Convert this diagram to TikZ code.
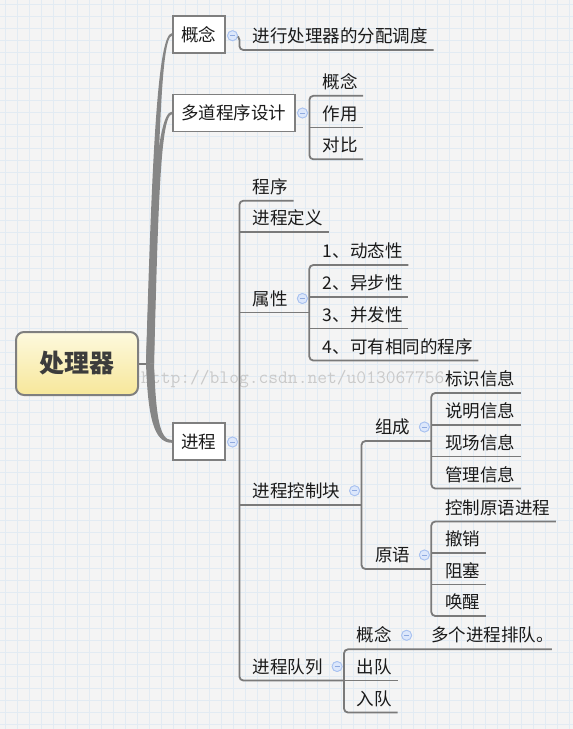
\documentclass[tikz,border=0pt]{standalone}
\usepackage{fontspec}
\setmainfont{Noto Sans CJK SC}
\usetikzlibrary{calc}
\definecolor{bgc}{HTML}{F4F4F4}
\definecolor{gridc}{HTML}{E2EBF3}
\definecolor{linec}{HTML}{7A7A7A}
\definecolor{curvec}{HTML}{868686}
\definecolor{boxc}{HTML}{7F7F7F}
\definecolor{txtc}{HTML}{1A1A1A}
\definecolor{rootc}{HTML}{3C3C3C}
\definecolor{rtop}{HTML}{FDF9DE}
\definecolor{rbot}{HTML}{F7E79A}
\definecolor{circf}{HTML}{DCE7FB}
\definecolor{circd}{HTML}{A9C2F0}
\definecolor{minc}{HTML}{8FAAE0}
\definecolor{wmc}{HTML}{CACACA}
\begin{document}
\begin{tikzpicture}[x=1pt,y=-1pt,
  conn/.style={draw=linec,line width=1.8pt,rounded corners=4pt},
  leaf/.style={inner sep=0pt,anchor=base west,text=txtc,font=\fontsize{17.5}{20}\selectfont},
  topic/.style={draw=boxc,line width=1.5pt,fill=white,inner xsep=8.5pt,inner ysep=0pt,minimum height=37pt,anchor=west,text=txtc,font=\fontsize{17.5}{20}\selectfont},
  fold/.style={circle,inner sep=0pt,minimum size=10pt,fill=circf,draw=circd,line width=0.8pt,
    path picture={\draw[draw=minc,line width=1pt] ([xshift=2.5pt]path picture bounding box.west) -- ([xshift=-2.5pt]path picture bounding box.east);}},
]
\useasboundingbox (0,0) rectangle (573,729);
% background grid
\fill[bgc] (0,0) rectangle (573,729);
\foreach \x in {5,17,...,569} \draw[gridc,line width=0.7pt] (\x,0) -- (\x,729);
\foreach \y in {4,16,...,724} \draw[gridc,line width=0.7pt] (0,\y) -- (573,\y);
% watermark
\node[anchor=base west,inner sep=0pt,text=wmc,font=\ttfamily\fontsize{19}{20}\selectfont] (wm) at (141,383) {http://blog.csdn.net/u013067756};

% root
\node[draw=boxc,line width=2pt,rounded corners=8pt,top color=rtop,bottom color=rbot,
  minimum width=122pt,minimum height=63pt,inner sep=0pt,
  font=\bfseries\fontsize{25}{28}\selectfont,text=rootc] (root) at (77,363.5) {处理器};
\coordinate (rj) at ($(root.east)+(11,0)$);

% main topics
\node[topic] (b1) at (172,34.5) {概念};
\node[topic] (b2) at (172,113) {多道程序设计};
\node[topic] (b3) at (172,441.5) {进程};

% tapered trunk curves
\draw[linec,line width=2pt] (root.east) -- (rj);
\fill[curvec] ($(rj)+(-4,0)$) .. controls (152,150) and (158,33) .. ($(b1.west)+(0,-1.3)$)
  -- ($(b1.west)+(0,1.3)$) .. controls (161,36) and (158,150) .. ($(rj)+(4,0)$) -- cycle;
\fill[curvec] ($(rj)+(-4,0)$) .. controls (151,220) and (156,111.5) .. ($(b2.west)+(0,-1.3)$)
  -- ($(b2.west)+(0,1.3)$) .. controls (160,114.5) and (158,220) .. ($(rj)+(4,0)$) -- cycle;
\fill[curvec] ($(rj)+(-4,0)$) .. controls (148,415) and (153,443) .. ($(b3.west)+(0,1.3)$)
  -- ($(b3.west)+(0,-1.3)$) .. controls (159,440) and (156,415) .. ($(rj)+(4,0)$) -- cycle;

% ---- branch 1: 概念
\node[fold] (k1) at ($(b1.east)+(7,1.2)$) {};
\node[leaf] (t1) at (252.7,42.5) {进行处理器的分配调度};
\coordinate (t1u) at ($(t1.base east)+(5.5,7.5)$);
\draw[conn] (k1.east) -- ++(1.5,0) |- (t1u);

% ---- branch 2: 多道程序设计
\node[fold] (k2) at ($(b2.east)+(7,0)$) {};
\coordinate (v2) at ($(k2.east)+(1.5,0)$);
\node[leaf] (m1) at (322.3,88.3) {概念};
\node[leaf] (m2) at (322.3,120) {作用};
\node[leaf] (m3) at (322.3,151.8) {对比};
\foreach \n in {m1,m2,m3} \coordinate (\n u) at ($(\n.base east)+(5.5,7.5)$);
\draw[conn] (m1u) -- (m1u -| v2) -- (m3u -| v2) -- (m3u);
\draw[conn] (m2u -| v2) -- (m2u);

% ---- branch 3: 进程
\node[fold] (k3) at ($(b3.east)+(7,0.5)$) {};
\coordinate (v3) at ($(k3.east)+(1.5,0)$);
\node[leaf] (p1) at (252.7,193.2) {程序};
\node[leaf] (p2) at (252.7,224.8) {进程定义};
\node[leaf] (p3) at (252.7,305) {属性};
\node[leaf] (p4) at (252.7,497.2) {进程控制块};
\node[leaf] (p5) at (252.7,673) {进程队列};
\foreach \n in {p1,p2} \coordinate (\n u) at ($(\n.base east)+(5.5,7.5)$);
\foreach \n in {p3,p4,p5} \coordinate (\n y) at ($(\n.base west)+(0,7.5)$);

% 属性
\node[fold] (k33) at ($(p3.base east)+(14.3,-6.5)$) {};
\coordinate (v33) at ($(k33.east)+(1.5,0)$);
\coordinate (p3u) at (p3y -| v33);
\node[leaf] (a1) at (322.7,257.5) {1、动态性};
\node[leaf] (a2) at (322.7,289.5) {2、异步性};
\node[leaf] (a3) at (322.7,321) {3、并发性};
\node[leaf] (a4) at (322.7,353) {4、可有相同的程序};
\foreach \n in {a1,a2,a3,a4} \coordinate (\n u) at ($(\n.base east)+(5.5,7.5)$);
\draw[conn] (a1u) -- (a1u -| v33) -- (a4u -| v33) -- (a4u);
\draw[conn] (a2u -| v33) -- (a2u);
\draw[conn] (a3u -| v33) -- (a3u);

% 进程控制块
\node[fold] (k34) at ($(p4.base east)+(14,-6.5)$) {};
\coordinate (v34) at ($(k34.east)+(1.5,0)$);
\coordinate (p4u) at (p4y -| v34);
\node[leaf] (q1) at (375,433.5) {组成};
\node[leaf] (q2) at (375,561.5) {原语};
\foreach \n in {q1,q2} \coordinate (\n y) at ($(\n.base west)+(0,7.5)$);
\node[fold] (k41) at ($(q1.base east)+(14,-6.5)$) {};
\coordinate (v41) at ($(k41.east)+(1.5,0)$);
\node[fold] (k42) at ($(q2.base east)+(14,-6.5)$) {};
\coordinate (v42) at ($(k42.east)+(1.5,0)$);
\coordinate (q1u) at (q1y -| v41);
\coordinate (q2u) at (q2y -| v42);
\draw[conn] (q1u) -- (q1u -| v34) -- (q2u -| v34) -- (q2u);

% 组成
\node[leaf] (r1) at (445,385.5) {标识信息};
\node[leaf] (r2) at (445,417.5) {说明信息};
\node[leaf] (r3) at (445,449) {现场信息};
\node[leaf] (r4) at (445,481) {管理信息};
\foreach \n in {r1,r2,r3,r4} \coordinate (\n u) at ($(\n.base east)+(5.5,7.5)$);
\draw[conn] (r1u) -- (r1u -| v41) -- (r4u -| v41) -- (r4u);
\draw[conn] (r2u -| v41) -- (r2u);
\draw[conn] (r3u -| v41) -- (r3u);

% 原语
\node[leaf] (s1) at (445,514) {控制原语进程};
\node[leaf] (s2) at (445,545.5) {撤销};
\node[leaf] (s3) at (445,577) {阻塞};
\node[leaf] (s4) at (445,608.5) {唤醒};
\foreach \n in {s1,s2,s3,s4} \coordinate (\n u) at ($(\n.base east)+(5.5,7.5)$);
\draw[conn] (s1u) -- (s1u -| v42) -- (s4u -| v42) -- (s4u);
\draw[conn] (s2u -| v42) -- (s2u);
\draw[conn] (s3u -| v42) -- (s3u);

% 进程队列
\node[fold] (k35) at ($(p5.base east)+(14,-6.5)$) {};
\coordinate (v35) at ($(k35.east)+(1.5,0)$);
\coordinate (p5u) at (p5y -| v35);
\node[leaf] (w1) at (356.7,641.8) {概念};
\node[leaf] (w2) at (356.7,673) {出队};
\node[leaf] (w3) at (356.7,705) {入队};
\node[fold] (kw) at ($(w1.base east)+(14.5,-6.5)$) {};
\node[leaf] (x1) at (431,641.8) {多个进程排队。};
\coordinate (x1u) at ($(x1.base east)+(-2,7.5)$);
\foreach \n in {w2,w3} \coordinate (\n u) at ($(\n.base east)+(5.5,7.5)$);
\draw[conn] (x1u) -- (x1u -| v35) -- (w3u -| v35) -- (w3u);
\draw[conn] (w2u -| v35) -- (w2u);

% 进程 bracket
\draw[conn] (p1u) -- (p1u -| v3) -- (p5u -| v3) -- (p5u);
\draw[conn] (p2u -| v3) -- (p2u);
\draw[conn] (p3u -| v3) -- (p3u);
\draw[conn] (p4u -| v3) -- (p4u);

% redraw fold markers on top of connectors
\foreach \k in {k1,k2,k3,k33,k34,k41,k42,k35,kw}
  \node[fold] at (\k) {};
\end{tikzpicture}
\end{document}
